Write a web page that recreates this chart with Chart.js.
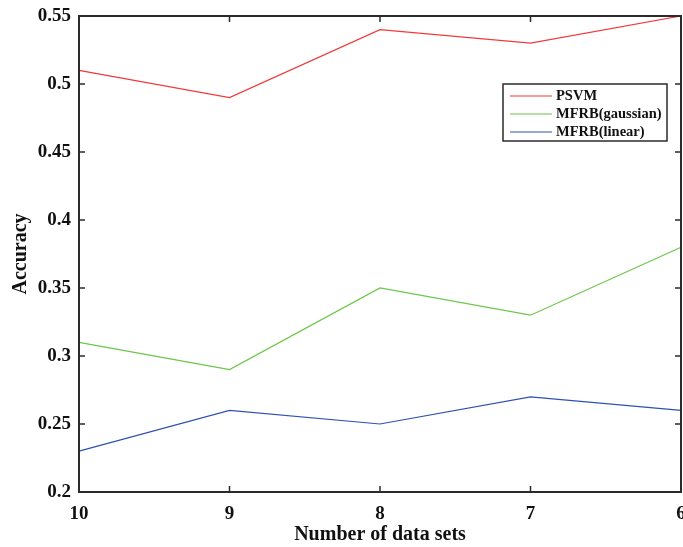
<!DOCTYPE html>
<html>
<head>
<meta charset="utf-8">
<script src="https://cdn.jsdelivr.net/npm/chart.js@4.4.1/dist/chart.umd.min.js"></script>
<style>
html,body{margin:0;padding:0;background:#fff;}
#wrap{width:683px;height:547px;position:relative;}
</style>
</head>
<body>
<div id="wrap"><canvas id="c" width="683" height="547"></canvas></div>
<script>
const categories = ['10', '9', '8', '7', '6'];
const psvm = [0.51, 0.49, 0.54, 0.53, 0.55];
const mfrbGaussian = [0.31, 0.29, 0.35, 0.33, 0.38];
const mfrbLinear = [0.23, 0.26, 0.25, 0.27, 0.26];
const yTicks = [0.2, 0.25, 0.3, 0.35, 0.4, 0.45, 0.5, 0.55];

const FONT = "'Liberation Serif', 'Times New Roman', serif";
const AXIS = '#2b2b2b';

const frame = {
  id: 'frame',
  afterDraw(chart) {
    const {ctx, chartArea: a, scales} = chart;
    ctx.save();
    ctx.strokeStyle = AXIS;
    ctx.lineWidth = 2;
    ctx.strokeRect(a.left, a.top, a.right - a.left, a.bottom - a.top);
    ctx.lineWidth = 1.5;
    const L = 6;
    scales.y.ticks.forEach((t) => {
      const y = scales.y.getPixelForValue(t.value);
      ctx.beginPath();
      ctx.moveTo(a.left, y); ctx.lineTo(a.left + L, y);
      ctx.moveTo(a.right, y); ctx.lineTo(a.right - L, y);
      ctx.stroke();
    });
    categories.forEach((c, i) => {
      const x = scales.x.getPixelForValue(i);
      ctx.beginPath();
      ctx.moveTo(x, a.bottom); ctx.lineTo(x, a.bottom - L);
      ctx.moveTo(x, a.top); ctx.lineTo(x, a.top + L);
      ctx.stroke();
    });
    // legend
    const bx = 503, by = 84, bw = 164, bh = 57;
    ctx.fillStyle = '#fff';
    ctx.fillRect(bx, by, bw, bh);
    ctx.lineWidth = 1.5;
    ctx.strokeStyle = AXIS;
    ctx.strokeRect(bx, by, bw, bh);
    ctx.font = 'bold 14.5px ' + FONT;
    ctx.textBaseline = 'middle';
    chart.data.datasets.forEach((ds, i) => {
      const y = by + 12 + i * 18;
      ctx.strokeStyle = ds.borderColor;
      ctx.lineWidth = 1.2;
      ctx.beginPath();
      ctx.moveTo(bx + 7, y); ctx.lineTo(bx + 49, y);
      ctx.stroke();
      ctx.fillStyle = '#111';
      ctx.fillText(ds.label, bx + 53, y);
    });
    ctx.restore();
  }
};

new Chart(document.getElementById('c'), {
  type: 'line',
  data: {
    labels: categories,
    datasets: [
      {label: 'PSVM', data: psvm, borderColor: '#f03a3a', borderWidth: 1.2, pointRadius: 0, tension: 0},
      {label: 'MFRB(gaussian)', data: mfrbGaussian, borderColor: '#6cc64a', borderWidth: 1.2, pointRadius: 0, tension: 0},
      {label: 'MFRB(linear)', data: mfrbLinear, borderColor: '#2f52b0', borderWidth: 1.2, pointRadius: 0, tension: 0}
    ]
  },
  options: {
    responsive: false,
    animation: false,
    layout: {padding: {left: 0, right: 2, top: 16, bottom: 0}},
    plugins: {legend: {display: false}, tooltip: {enabled: false}},
    scales: {
      x: {
        offset: false,
        grid: {display: false},
        border: {display: false},
        ticks: {color: '#111', font: {family: FONT, size: 19, weight: 'bold'}, padding: 3, maxRotation: 0, autoSkip: false},
        title: {display: true, text: 'Number of data sets', color: '#111', font: {family: FONT, size: 20, weight: 'bold'}, padding: {top: 4, bottom: 0}},
        afterFit(s) { s.height = 55; s.paddingLeft = 0; s.paddingRight = 0; }
      },
      y: {
        min: 0.2, max: 0.55,
        grid: {display: false, tickLength: 8},
        border: {display: false},
        afterBuildTicks(s) { s.ticks = yTicks.map(v => ({value: v})); },
        ticks: {color: '#111', font: {family: FONT, size: 19, weight: 'bold'}, padding: 0,
          callback: v => String(+v.toFixed(2))},
        title: {display: true, text: 'Accuracy', color: '#111', font: {family: FONT, size: 20, weight: 'bold'}, padding: {top: 9, bottom: 4}},
        afterFit(s) { s.width = 79; s.paddingTop = 0; s.paddingBottom = 0; }
      }
    }
  },
  plugins: [frame]
});
</script>
</body>
</html>
